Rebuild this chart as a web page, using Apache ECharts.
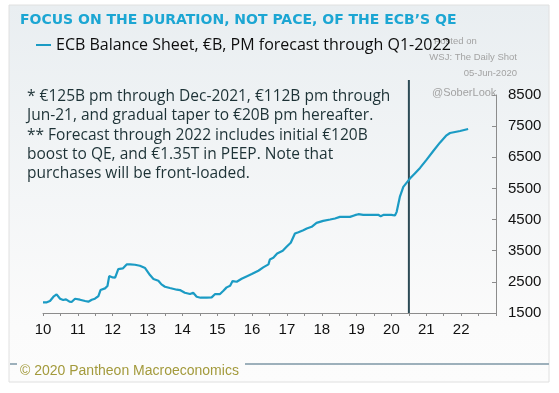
<!DOCTYPE html>
<html>
<head>
<meta charset="utf-8">
<script src="https://cdn.jsdelivr.net/npm/echarts@6/dist/echarts.min.js"></script>
<style>
html,body{margin:0;padding:0;background:#ffffff;}
#chart{width:559px;height:393px;}
</style>
</head>
<body>
<div id="chart"></div>
<script>
// ---- Data ----
const years = [
  10.00,10.11,10.20,10.30,10.39,10.49,10.58,10.66,10.76,10.82,10.92,
  11.06,11.21,11.30,11.40,11.49,11.59,11.65,11.78,11.85,11.90,
  12.00,12.07,12.16,12.29,12.40,12.50,12.64,12.78,12.93,
  13.07,13.17,13.31,13.40,13.50,13.64,13.84,13.93,
  14.07,14.22,14.31,14.41,14.52,14.70,14.84,14.94,
  15.08,15.17,15.27,15.37,15.44,15.56,15.70,15.84,15.99,
  16.18,16.32,16.47,16.51,16.61,16.72,16.88,16.99,
  17.11,17.23,17.33,17.47,17.57,17.71,17.85,
  18.04,18.24,18.38,18.52,18.81,18.95,
  19.05,19.19,19.62,19.69,19.78,
  20.00,20.10,20.15,20.24,20.34,20.53,20.67,20.82,
  21.01,21.20,21.39,21.58,21.68,21.97,22.20
];
const balanceSheet = [
  1842,1842,1885,2023,2098,1959,1917,1938,1863,1853,1959,
  1927,1885,1863,1927,1959,2045,2237,2291,2365,2686,
  2643,2632,2910,2932,3060,3060,3049,3017,2942,
  2718,2590,2536,2419,2344,2301,2248,2237,
  2152,2109,2152,2023,1991,1991,2002,2109,
  2109,2205,2323,2376,2526,2504,2600,2675,2750,
  2857,2964,3060,3220,3273,3412,3498,3626,
  3754,4053,4096,4160,4214,4267,4395,
  4459,4502,4534,4587,4587,4641,
  4673,4652,4652,4609,4652,
  4652,4630,4748,5228,5549,5816,5976,6158,
  6425,6703,6970,7205,7280,7344,7408
];
const forecastStart = [20.5];
const xTicks = [10,11,12,13,14,15,16,17,18,19,20,21,22];
const yTicks = [1500,2500,3500,4500,5500,6500,7500,8500];

const seriesName = 'ECB Balance Sheet, €B, PM forecast through Q1-2022';
const titleText = 'FOCUS ON THE DURATION, NOT PACE, OF THE ECB\u2019S QE';
const noteLines = [
  '* €125B pm through Dec-2021, €112B pm through',
  'Jun-21, and gradual taper to €20B pm hereafter.',
  '** Forecast through 2022 includes initial €120B',
  'boost to QE, and €1.35T in PEEP. Note that',
  'purchases will be front-loaded.'
];

const lineData = years.map((y, i) => [y, balanceSheet[i]]);
const vlineData = [[forecastStart[0], 0], [forecastStart[0], 1]];

const chart = echarts.init(document.getElementById('chart'), null, {renderer: 'canvas'});

const option = {
  animation: false,
  backgroundColor: '#ffffff',
  grid: [
    {left: 43, right: 63, top: 95, bottom: 80, containLabel: false},
    {left: 43, right: 63, top: 80, bottom: 80, containLabel: false}
  ],
  legend: {
    show: true,
    left: 36,
    top: 37,
    padding: 0,
    itemWidth: 15,
    itemHeight: 2,
    itemGap: 10,
    icon: 'rect',
    z: 10,
    data: [seriesName],
    textStyle: {fontFamily: 'Open Sans', fontSize: 16, color: '#0d0d0d', fontWeight: 500}
  },
  xAxis: [
    {
      type: 'value', gridIndex: 0, min: 10, max: 23, interval: 1,
      axisLine: {show: true, lineStyle: {color: '#8c8c8c', width: 1}},
      axisTick: {show: true, length: 3, lineStyle: {color: '#8c8c8c'}},
      minorTick: {show: true, splitNumber: 2, length: 3, lineStyle: {color: '#8c8c8c'}},
      splitLine: {show: false},
      axisLabel: {
        margin: 9, fontFamily: 'Liberation Sans', fontSize: 15, color: '#111',
        formatter: v => (xTicks.indexOf(v) >= 0 ? String(v) : '')
      }
    },
    {type: 'value', gridIndex: 1, min: 10, max: 23, show: false}
  ],
  yAxis: [
    {
      type: 'value', gridIndex: 0, position: 'right', min: 1500, max: 8500, interval: 1000,
      axisLine: {show: true, lineStyle: {color: '#8c8c8c', width: 1}},
      axisTick: {show: true, inside: true, length: 4, lineStyle: {color: '#8c8c8c'}},
      splitLine: {show: false},
      axisLabel: {
        margin: 12, fontFamily: 'Liberation Sans', fontSize: 15, color: '#111',
        formatter: v => (yTicks.indexOf(v) >= 0 ? String(v) : '')
      }
    },
    {type: 'value', gridIndex: 1, min: 0, max: 1, show: false}
  ],
  series: [
    {
      name: 'forecastStart', type: 'line', xAxisIndex: 1, yAxisIndex: 1,
      data: vlineData, symbol: 'none', silent: true,
      lineStyle: {color: '#2c4a55', width: 2}, z: 2
    },
    {
      name: seriesName, type: 'line', xAxisIndex: 0, yAxisIndex: 0,
      data: lineData, symbol: 'none', smooth: false,
      lineStyle: {color: '#1b9bc4', width: 2.2},
      itemStyle: {color: '#1b9bc4'}, z: 3
    }
  ],
  graphic: [
    {
      type: 'rect', z: -10, silent: true,
      shape: {x: 9, y: 5, width: 540, height: 377},
      style: {
        fill: new echarts.graphic.LinearGradient(0, 0, 0, 1, [
          {offset: 0, color: '#e9eef1'},
          {offset: 0.85, color: '#fbfbfb'},
          {offset: 1, color: '#fcfcfc'}
        ]),
        stroke: '#e0e0e0', lineWidth: 1
      }
    },
    {
      type: 'text', z: 5, left: 20, top: 13,
      style: {text: titleText, fill: '#1ca6d3', font: 'bold 14px "DejaVu Sans"'}
    },
    {
      type: 'text', z: 1, left: 434, top: 36,
      style: {text: 'Posted on', fill: '#a3a3a3', font: '9.5px "Liberation Sans"'}
    },
    {
      type: 'text', z: 1, right: 42, top: 52,
      style: {text: 'WSJ: The Daily Shot', fill: '#a3a3a3', font: '9.5px "Liberation Sans"', align: 'right'}
    },
    {
      type: 'text', z: 1, right: 42, top: 68,
      style: {text: '05-Jun-2020', fill: '#a3a3a3', font: '9.5px "Liberation Sans"', align: 'right'}
    },
    {
      type: 'text', z: 1, left: 432, top: 87,
      style: {text: '@SoberLook', fill: '#a3a3a3', font: '11px "Liberation Sans"'}
    },
    {
      type: 'text', z: 5, left: 27, top: 87,
      style: {text: noteLines.join('\n'), fill: '#1d3236', font: '500 15.5px "Open Sans"', lineHeight: 19.3}
    },
    {
      type: 'line', z: 1, silent: true,
      shape: {x1: 10, y1: 364, x2: 17, y2: 364},
      style: {stroke: '#9db0bb', lineWidth: 2}
    },
    {
      type: 'line', z: 1, silent: true,
      shape: {x1: 245, y1: 364, x2: 549, y2: 364},
      style: {stroke: '#9db0bb', lineWidth: 2}
    },
    {
      type: 'text', z: 5, left: 20, top: 364,
      style: {text: '\u00A9 2020 Pantheon Macroeconomics', fill: '#a39a3c', font: '14px "Liberation Sans"'}
    }
  ]
};
chart.setOption(option);
</script>
</body>
</html>
